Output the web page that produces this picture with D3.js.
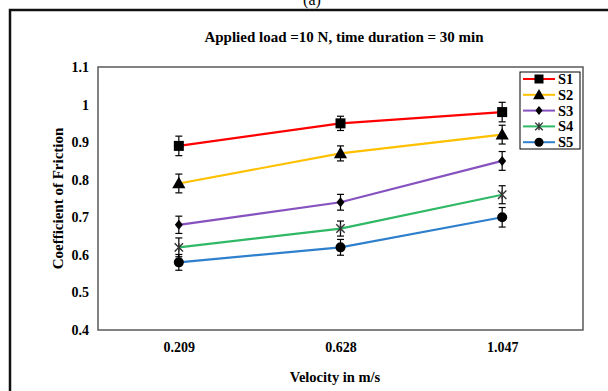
<!DOCTYPE html>
<html>
<head>
<meta charset="utf-8">
<script src="https://cdn.jsdelivr.net/npm/d3@7"></script>
<style>
  body { margin: 0; background: #fff; }
  text { font-family: "Liberation Serif", "Times New Roman", serif; font-weight: bold; fill: #000; }
</style>
</head>
<body>
<svg id="chart"></svg>
<script>
// velocity categories (m/s)
const velocities = ['0.209', '0.628', '1.047'];
const seriesNames = ['S1', 'S2', 'S3', 'S4', 'S5'];
const s1 = [0.89, 0.95, 0.98];
const s2 = [0.79, 0.87, 0.92];
const s3 = [0.68, 0.74, 0.85];
const s4 = [0.62, 0.67, 0.76];
const s5 = [0.58, 0.62, 0.70];
// error bar half-widths
const e1 = [0.026, 0.019, 0.026];
const e2 = [0.025, 0.02, 0.025];
const e3 = [0.023, 0.021, 0.025];
const e4 = [0.025, 0.02, 0.024];
const e5 = [0.021, 0.021, 0.026];
const yTicks = [0.4, 0.5, 0.6, 0.7, 0.8, 0.9, 1, 1.1];

const colors = ['#ff0000', '#ffc000', '#8652bf', '#2fb865', '#2f80cc'];
const shapes = ['square', 'triangle', 'diamond', 'star', 'circle'];
const values = [s1, s2, s3, s4, s5];
const errors = [e1, e2, e3, e4, e5];

const W = 608, H = 391;
const margin = {top: 67, right: 25, bottom: 61, left: 98};
const width = W - margin.left - margin.right;
const height = H - margin.top - margin.bottom;

const svg = d3.select('#chart').attr('width', W).attr('height', H);

// outer frame and panel label
svg.append('rect')
    .attr('x', 10).attr('y', 10)
    .attr('width', 640).attr('height', 420)
    .attr('fill', 'none').attr('stroke', '#111').attr('stroke-width', 2.5);
svg.append('text')
    .attr('x', 312).attr('y', 5)
    .attr('text-anchor', 'middle')
    .style('font-size', '16px').style('font-weight', 'normal')
    .text('(a)');

const g = svg.append('g')
    .attr('transform', 'translate(' + margin.left + ',' + margin.top + ')');

const x = d3.scalePoint().domain(velocities).range([0, width]).padding(0.5);
const y = d3.scaleLinear().domain([0.4, 1.1]).range([height, 0]);

// plot area border
g.append('rect')
    .attr('width', width).attr('height', height)
    .attr('fill', 'none').attr('stroke', '#595959').attr('stroke-width', 1.5);

const xAxis = g.append('g')
    .attr('transform', 'translate(0,' + height + ')')
    .call(d3.axisBottom(x).tickSize(0).tickPadding(9));
const yAxis = g.append('g')
    .call(d3.axisLeft(y).tickValues(yTicks).tickSize(0).tickPadding(9).tickFormat(d3.format('')));
[xAxis, yAxis].forEach(a => {
    a.select('.domain').remove();
    a.selectAll('text').style('font-size', '14px')
        .style('font-family', '"Liberation Serif", serif').attr('fill', '#000');
});
xAxis.selectAll('text').attr('dy', '0.9em');

// titles
svg.append('text')
    .attr('x', 344).attr('y', 42)
    .attr('text-anchor', 'middle')
    .style('font-size', '15px')
    .text('Applied load =10 N, time duration = 30 min');
svg.append('text')
    .attr('x', 335).attr('y', 382)
    .attr('text-anchor', 'middle')
    .style('font-size', '14.5px')
    .text('Velocity in m/s');
svg.append('text')
    .attr('transform', 'translate(63,' + (margin.top + height / 2) + ') rotate(-90)')
    .attr('text-anchor', 'middle')
    .style('font-size', '15px')
    .text('Coefficient of Friction');

function drawMarker(sel, shape, size) {
    if (shape === 'square') {
        sel.append('rect').attr('x', -size / 2).attr('y', -size / 2)
            .attr('width', size).attr('height', size).attr('fill', '#000');
    } else if (shape === 'triangle') {
        sel.append('path').attr('d', d3.symbol(d3.symbolTriangle, size * size * 0.75)()).attr('fill', '#000')
            .attr('transform', 'translate(0,1)');
    } else if (shape === 'diamond') {
        const s = size * 0.5;
        sel.append('path').attr('d', `M0,${-s}L${s * 0.8},0L0,${s}L${-s * 0.8},0Z`).attr('fill', '#000');
    } else if (shape === 'star') {
        const s = size * 0.42;
        sel.append('path')
            .attr('d', `M${-s},${-s}L${s},${s}M${-s},${s}L${s},${-s}M0,${-s}L0,${s}`)
            .attr('stroke', '#333').attr('stroke-width', 1.4).attr('fill', 'none');
    } else {
        sel.append('circle').attr('r', size / 2).attr('fill', '#000');
    }
}

const line = d3.line().x((d, i) => x(velocities[i])).y(d => y(d));

values.forEach((vals, si) => {
    g.append('path')
        .datum(vals)
        .attr('d', line)
        .attr('fill', 'none')
        .attr('stroke', colors[si])
        .attr('stroke-width', 2.2);
});

values.forEach((vals, si) => {
    vals.forEach((v, i) => {
        const cx = x(velocities[i]);
        const e = errors[si][i];
        const eb = g.append('g').attr('stroke', '#000').attr('stroke-width', 1.2);
        eb.append('line').attr('x1', cx).attr('x2', cx).attr('y1', y(v - e)).attr('y2', y(v + e));
        eb.append('line').attr('x1', cx - 3.5).attr('x2', cx + 3.5).attr('y1', y(v - e)).attr('y2', y(v - e));
        eb.append('line').attr('x1', cx - 3.5).attr('x2', cx + 3.5).attr('y1', y(v + e)).attr('y2', y(v + e));
        const m = g.append('g').attr('transform', 'translate(' + cx + ',' + y(v) + ')');
        drawMarker(m, shapes[si], 10);
    });
});

// legend
const legend = svg.append('g').attr('transform', 'translate(520,72)');
legend.append('rect')
    .attr('width', 60).attr('height', 77)
    .attr('fill', '#fff').attr('stroke', '#000').attr('stroke-width', 1);
seriesNames.forEach((name, i) => {
    const row = legend.append('g').attr('transform', 'translate(0,' + (7 + i * 15.8) + ')');
    row.append('line').attr('x1', 3).attr('x2', 35).attr('stroke', colors[i]).attr('stroke-width', 2);
    drawMarker(row.append('g').attr('transform', 'translate(19,0)'), shapes[i], 9);
    row.append('text').attr('x', 38).attr('y', 5)
        .style('font-size', '14.5px').text(name);
});
</script>
</body>
</html>
